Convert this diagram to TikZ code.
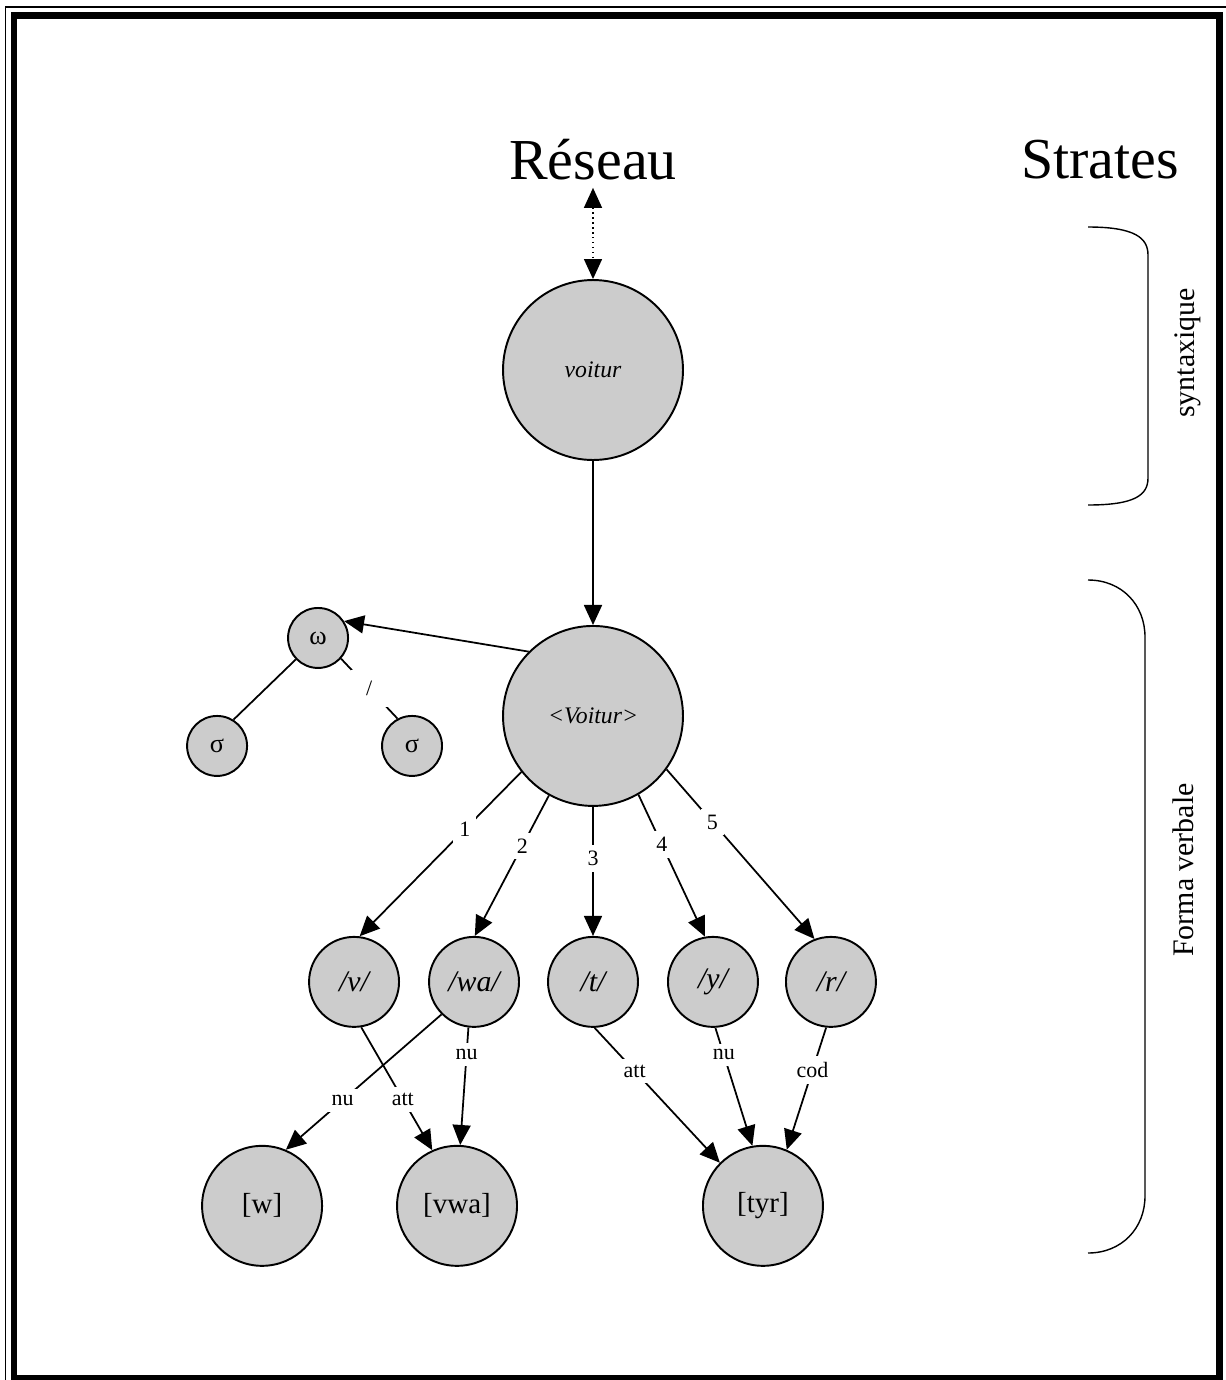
\documentclass[tikz,border=0pt]{standalone}
\usepackage{fontspec}
\setmainfont{Liberation Serif}
\usetikzlibrary{arrows.meta,positioning}
\tikzset{
    >={Triangle[length=0.4cm,width=0.36cm]},
    punkt/.style={
           circle,
           draw=black, line width=1.1pt,
           fill=black!20,
           inner sep=0pt,
           minimum size=1.8cm,
           font=\fontsize{17}{20}\selectfont\itshape},
    bigPunkt/.style={
           punkt,
           minimum size=3.6cm,
           font=\fontsize{13.5}{16}\selectfont\itshape},
    leafPunkt/.style={
           punkt,
           minimum size=2.4cm,
           font=\fontsize{16.5}{20}\selectfont},
    smallPunkt/.style={
           punkt,
           minimum size=1.2cm,
           font=\fontsize{15}{17}\selectfont},
    pil/.style={
           ->,
           line width=1pt},
    linje/.style={
           line width=1pt},
    etikett/.style={
           fill=white,
           inner sep=3.5pt,
           font=\fontsize{12.5}{14}\selectfont},
    titel/.style={
           inner sep=4pt,
           font=\fontsize{33}{36}\selectfont},
    strate/.style={
           rotate=90,
           font=\fontsize{17}{20}\selectfont},
    klammer/.style={
           line width=0.8pt}
}
\begin{document}
\begin{tikzpicture}[x=0.02cm, y=-0.02cm, on grid]
	\useasboundingbox (0,0) rectangle (1226,1380);
	\draw [line width=0.8pt] (5.5,1380) -- (5.5,7) -- (1226,7);
	\draw [line width=3.7pt] (14,15.5) rectangle (1219.5,1378);
	\node[bigPunkt] (VoiturSyn) at (593,370) {voitur};
	\node[titel, above = 4.2cm of VoiturSyn] (Reseau) {Réseau};
	\node[titel, right = 10.14cm of Reseau] (Strates) {Strates};
	\node[bigPunkt, below = 6.92cm of VoiturSyn] (VoiturForm) {<Voitur>};
	\node[smallPunkt, above left = 1.56cm and 5.5cm of VoiturForm] (Omega) {ω};
	\node[smallPunkt, below left = 2.16cm and 2.02cm of Omega] (SigmaL) {σ};
	\node[smallPunkt, below right = 2.16cm and 1.88cm of Omega] (SigmaR) {σ};
	\node[punkt, below = 5.32cm of VoiturForm] (T) {/t/};
	\node[punkt, left = 2.38cm of T] (WA) {/wa/};
	\node[punkt, left = 2.4cm of WA] (V) {/v/};
	\node[punkt, right = 2.4cm of T] (Y) {/y/};
	\node[punkt, right = 2.36cm of Y] (R) {/r/};
	\node[leafPunkt, below = 4.48cm of WA, xshift=-0.34cm] (VWA) {[vwa]};
	\node[leafPunkt, left = 3.9cm of VWA] (W) {[w]};
	\node[leafPunkt, right = 6.12cm of VWA] (TYR) {[tyr]};
	\draw (Reseau) edge[<->, dotted, line width=0.8pt] (VoiturSyn);
	\draw (VoiturSyn) edge[pil] (VoiturForm);
	\draw (VoiturForm.135) edge[pil] (Omega.33);
	\draw (Omega.-136) edge[linje] (SigmaL.58);
	\draw (Omega.-42) edge[linje] node[etikett, minimum size=0.75cm]{/} (SigmaR.118);
	\draw (VoiturForm.-142) edge[pil] node[etikett, pos=0.35]{1} (V.83);
	\draw (VoiturForm.-119) edge[pil] node[etikett, pos=0.36]{2} (WA.89);
	\draw (VoiturForm) edge[pil] node[etikett, pos=0.4]{3} (T);
	\draw (VoiturForm.-60) edge[pil] node[etikett, pos=0.35]{4} (Y.100);
	\draw (VoiturForm.-36) edge[pil] node[etikett, pos=0.31]{5} (R.111);
	\draw (WA.-135) edge[pil] node[etikett, pos=0.635]{nu} (W.67);
	\draw (V.-81) edge[pil] node[etikett, pos=0.585]{att} (VWA.114);
	\draw (WA.-97) edge[pil] node[etikett, pos=0.23]{nu} (VWA.87);
	\draw (T.-88) edge[pil] node[etikett, pos=0.32]{att} (TYR.135);
	\draw (Y.-87) edge[pil] node[etikett, pos=0.23]{nu} (TYR.100);
	\draw (R.-96) edge[pil] node[etikett, pos=0.35]{cod} (TYR.67);
	\draw [klammer] (1088,227) .. controls (1135,227) and (1148,238) .. (1148,255) -- (1148,478) .. controls (1148,495) and (1135,505) .. (1088,505);
	\node[strate] (Syntaxique) at (1188,353) {syntaxique};
	\draw [klammer] (1088,580) .. controls (1122,580) and (1145,605) .. (1145,637) -- (1145,1196) .. controls (1145,1228) and (1122,1253) .. (1088,1253);
	\node[strate] (FormaVerbale) at (1183,870) {Forma verbale};
\end{tikzpicture}
\end{document}
